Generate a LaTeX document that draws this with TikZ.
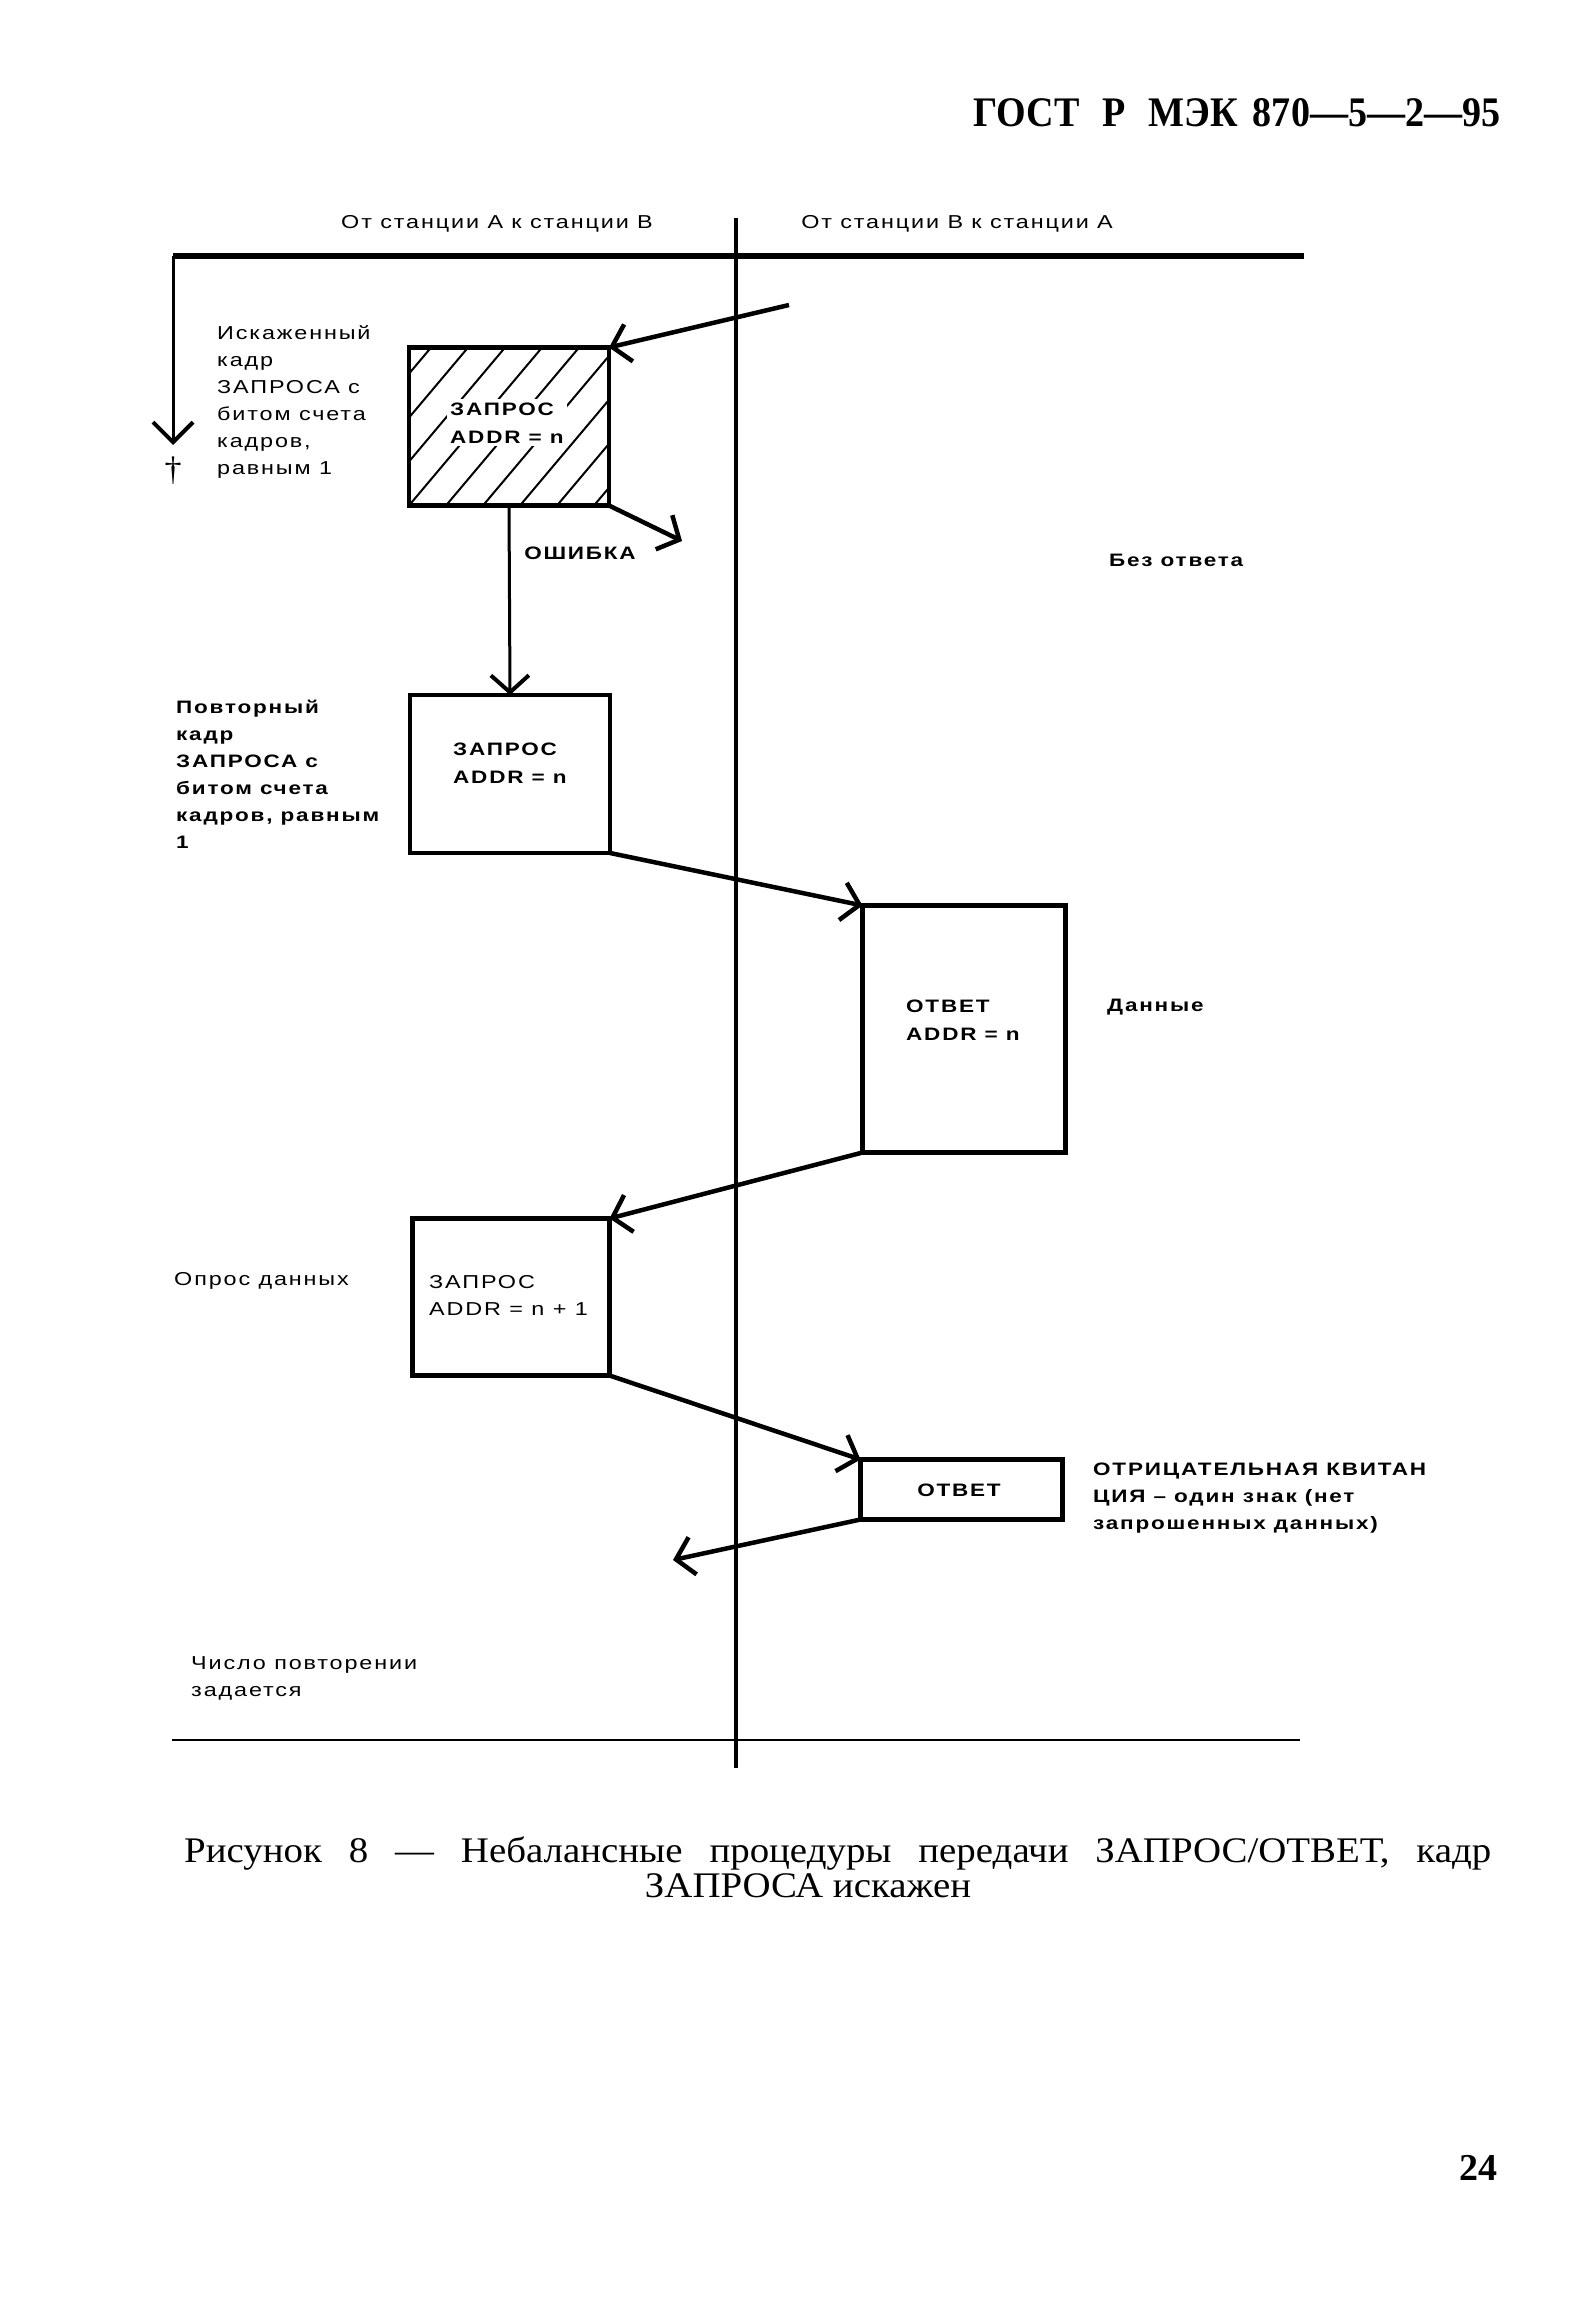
\documentclass[tikz,border=0pt]{standalone}
\usepackage{fontspec}
\usepackage{graphicx}
\setmainfont{Liberation Serif}
\newfontfamily\labfont{Liberation Sans}[FakeStretch=1.25,LetterSpace=10]
\newfontfamily\capfont{Liberation Serif}[FakeStretch=1.08]
\usetikzlibrary{arrows.meta,calc}
\begin{document}
\begin{tikzpicture}[x=1pt,y=-1pt,
  lab/.style={font=\labfont\fontsize{18.7}{27}\selectfont, inner sep=0pt, align=left},
  labb/.style={font=\labfont\bfseries\fontsize{18}{27}\selectfont, inner sep=0pt, align=left},
  boxtxt/.style={font=\labfont\bfseries\fontsize{18}{28}\selectfont, inner sep=0pt, align=left},
  boxtxtr/.style={font=\labfont\fontsize{18.7}{27}\selectfont, inner sep=0pt, align=left},
  frame/.style={draw, line width=4.5pt, inner sep=0pt, outer sep=0pt},
  conn/.style={line width=4.5pt, -{Straight Barb[length=17pt,width=38pt]}},
  captext/.style={inner sep=0pt, font=\capfont\fontsize{36}{42}\selectfont},
  ]
\useasboundingbox (0,0) rectangle (1586,2314);

% header
\node[anchor=base west, inner sep=0pt] (hdr) at (973,127)
  {\resizebox{527pt}{28pt}{\bfseries ГОСТ\hspace{0.6em}Р\hspace{0.6em}МЭК\hspace{0.4em}870—5—2—95}};

% column headings
\node[lab, anchor=base] (hA) at (497,229) {От станции А к станции В};
\node[lab, anchor=base] (hB) at (957,229) {От станции В к станции А};

% frame lines
\coordinate (tl) at (173,256);
\coordinate (tr) at (1304,256);
\coordinate (ct) at (736,218);
\coordinate (cb) at (736,1768);
\coordinate (bl) at (172,1740);
\coordinate (br) at (1300,1740);
\coordinate (la) at (173,445);
\draw[line width=6pt] (tl) -- (tr);
\draw[line width=3.5pt] (ct) -- (cb);
\draw[line width=2.5pt] (bl) -- (br);
\draw[line width=3pt, -{Straight Barb[length=20pt,width=40pt,line width=4pt]}] (tl) -- (la);
\node[font=\fontsize{34}{34}\selectfont, inner sep=0pt, anchor=base] (dag) at (173,480) {†};

% hatched box
\node[inner sep=0pt, outer sep=0pt, minimum width=200pt, minimum height=158pt] (hb) at (509,426.5) {};
\begin{scope}
  \clip (hb.south west) rectangle (hb.north east);
  \foreach \i in {-5,...,6}
    \draw[line width=2pt] ($(hb.south west)+(\i*37,0)$) -- ++(160,-190);
\end{scope}
\draw[line width=4.5pt] (hb.south west) rectangle (hb.north east);
\node[boxtxt, anchor=base west, fill=white, inner sep=3pt] (hbt) at (447,443) {ЗАПРОС\\ADDR = n};

% boxes
\node[frame, minimum width=200pt, minimum height=158pt] (b2) at (510,774) {};
\node[boxtxt, anchor=base west] (b2t) at (453,783) {ЗАПРОС\\ADDR = n};
\node[frame, minimum width=203pt, minimum height=247pt] (b3) at (964,1029) {};
\node[boxtxt, anchor=base west] (b3t) at (906,1040) {ОТВЕТ\\ADDR = n};
\node[frame, minimum width=197pt, minimum height=157pt] (b4) at (511,1297) {};
\node[boxtxtr, anchor=base west] (b4t) at (429,1315) {ЗАПРОС\\ADDR = n + 1};
\node[frame, minimum width=202pt, minimum height=60pt] (b5) at (961.5,1489.5) {};
\node[boxtxt] (b5t) at (959,1490) {ОТВЕТ};

% connectors
\coordinate (in1) at (789,305);
\coordinate (err) at (682,541);
\coordinate (ret) at (673,1560);
\draw[conn] (in1) -- (hb.north east);
\draw[conn] (hb.south east) -- (err);
\draw[line width=3pt, -{Straight Barb[length=17pt,width=38pt,line width=4pt]}] (hb.south) -- (b2.north);
\draw[conn] (b2.south east) -- (b3.north west);
\draw[conn] (b3.south west) -- (b4.north east);
\draw[conn] (b4.south east) -- (b5.north west);
\draw[conn] (b5.south west) -- (ret);

% labels (base = baseline of the last line)
\node[lab, anchor=base west] (l1) at (217,474) {Искаженный\\кадр\\ЗАПРОСА с\\битом счета\\кадров,\\равным 1};
\node[labb] (err1) at (580,553) {ОШИБКА};
\node[labb, anchor=base west] (noans) at (1109,566) {Без ответа};
\node[labb, anchor=base west] (l2) at (176,848) {Повторный\\кадр\\ЗАПРОСА с\\битом счета\\кадров, равным\\1};
\node[labb, anchor=base west] (data) at (1107,1011) {Данные};
\node[lab, anchor=base west] (poll) at (174,1285) {Опрос данных};
\node[labb, anchor=base west] (nak) at (1093,1529) {ОТРИЦАТЕЛЬНАЯ КВИТАН\\ЦИЯ – один знак (нет\\запрошенных данных)};
\node[lab, anchor=base west] (rep) at (191,1696) {Число повторении\\задается};

% caption
\node[captext, anchor=base west] (cap1) at (184,1862)
  {\makebox[1307pt][s]{Рисунок 8 — Небалансные процедуры передачи ЗАПРОС/ОТВЕТ, кадр}};
\node[captext, anchor=base] (cap2) at (808,1897) {ЗАПРОСА искажен};

% page number
\node[anchor=base west, inner sep=0pt, font=\bfseries\fontsize{38}{40}\selectfont] (pg) at (1459,2180) {24};
\end{tikzpicture}
\end{document}
